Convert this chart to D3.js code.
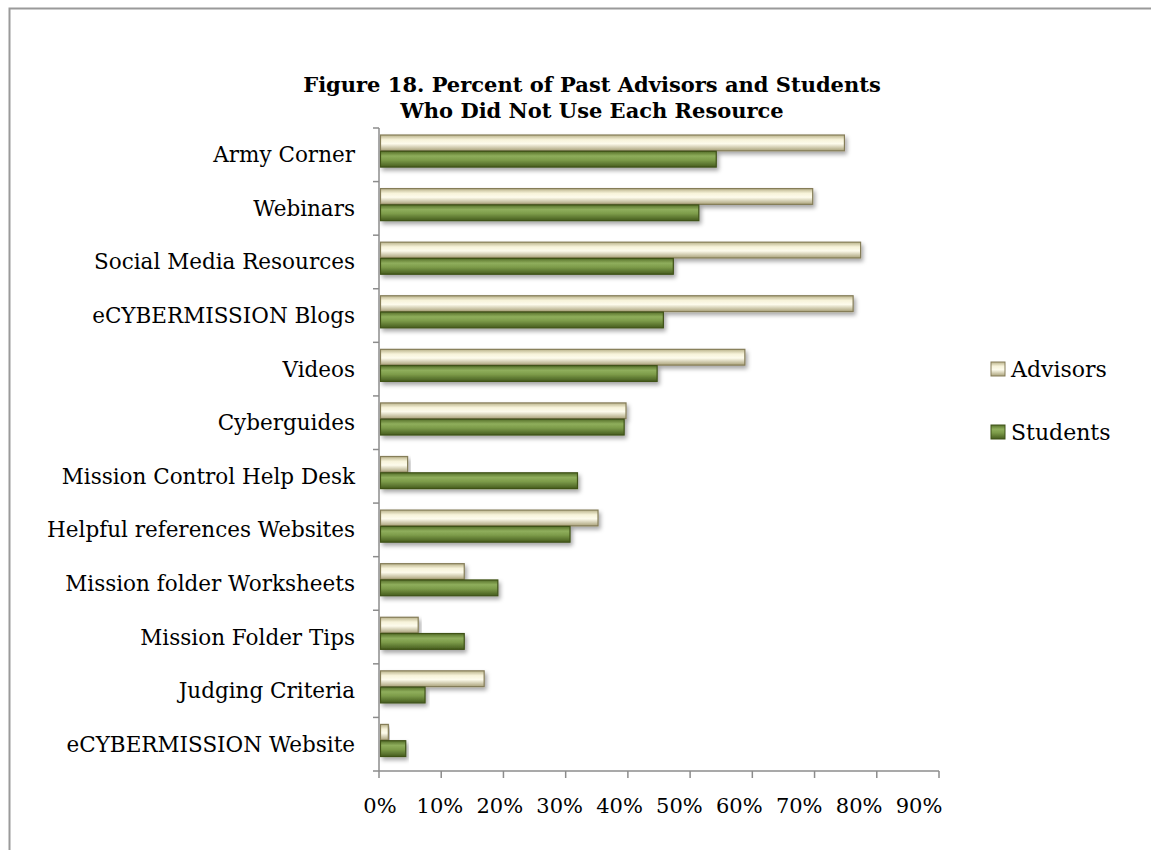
<!DOCTYPE html>
<html>
<head>
<meta charset="utf-8">
<script src="https://cdn.jsdelivr.net/npm/d3@7"></script>
<style>
  body { margin: 0; background: #fff; }
  svg { display: block; }
</style>
</head>
<body>
<svg id="chart" width="1151" height="850"></svg>
<script>
'use strict';

// Data
var categories = [
    "Army Corner",
    "Webinars",
    "Social Media Resources",
    "eCYBERMISSION Blogs",
    "Videos",
    "Cyberguides",
    "Mission Control Help Desk",
    "Helpful references Websites",
    "Mission folder Worksheets",
    "Mission Folder Tips",
    "Judging Criteria",
    "eCYBERMISSION Website"
];
var advisors = [74.8, 69.7, 77.4, 76.2, 58.8, 39.7, 4.6, 35.2, 13.7, 6.3, 16.9, 1.5];
var students = [54.2, 51.4, 47.3, 45.7, 44.7, 39.4, 31.9, 30.7, 19.1, 13.7, 7.4, 4.3];
var seriesNames = ["Advisors", "Students"];
var xTicks = [0, 10, 20, 30, 40, 50, 60, 70, 80, 90];

var FONT = "'DejaVu Serif', serif";

var svg = d3.select("#chart");

// gradients give the bevelled look of the original bars
var defs = svg.append("defs");

function addGradient(id, stops) {
    var g = defs.append("linearGradient")
        .attr("id", id)
        .attr("x1", 0).attr("y1", 0)
        .attr("x2", 0).attr("y2", 1);
    stops.forEach(function (s) {
        g.append("stop").attr("offset", s[0]).attr("stop-color", s[1]);
    });
}

addGradient("gradAdv", [[0, "#b9b28a"], [0.3, "#f7f3da"], [0.55, "#fdfbec"], [1, "#aaa27a"]]);
addGradient("gradStu", [[0, "#56702a"], [0.3, "#8fae5c"], [0.55, "#7d9c4a"], [1, "#465c1e"]]);

var shadow = defs.append("filter")
    .attr("id", "shadow")
    .attr("x", "-5%").attr("y", "-30%")
    .attr("width", "115%").attr("height", "190%");
shadow.append("feDropShadow")
    .attr("dx", 2).attr("dy", 3)
    .attr("stdDeviation", 2)
    .attr("flood-color", "#000")
    .attr("flood-opacity", 0.35);

var fills   = { "Advisors": "url(#gradAdv)", "Students": "url(#gradStu)" };
var strokes = { "Advisors": "#857d58", "Students": "#3f5218" };

// frame round the chart (runs off the right and bottom edge)
svg.append("rect")
    .attr("x", 9.5).attr("y", 8.5)
    .attr("width", 1250).attr("height", 900)
    .style("fill", "none")
    .style("stroke", "#9a9a9a")
    .style("stroke-width", 2);

// title
var title = svg.append("text")
    .style("font-family", FONT)
    .style("font-weight", "bold")
    .style("font-size", "21px")
    .style("text-anchor", "middle")
    .style("fill", "#000");
title.append("tspan").attr("x", 592).attr("y", 92)
    .text("Figure 18. Percent of Past Advisors and Students");
title.append("tspan").attr("x", 592).attr("y", 118)
    .text("Who Did Not Use Each Resource");

var plot = { left: 379, right: 939, top: 128, bottom: 771 };

var x = d3.scaleLinear().domain([0, 90]).range([plot.left, plot.right]);
// tick labels in the original sit a little tighter than the ticks
var xLabel = d3.scaleLinear().domain([0, 90]).range([380, 919]);
var y = d3.scaleBand().domain(categories).range([plot.top, plot.bottom])
    .paddingInner(0).paddingOuter(0);
var ySub = d3.scaleBand().domain(seriesNames)
    .range([7, y.bandwidth() - 14]).padding(0);

var rows = categories.map(function (c, i) {
    return { cat: c, values: [
        { name: "Advisors", value: advisors[i] },
        { name: "Students", value: students[i] }
    ]};
});

var groups = svg.append("g").selectAll("g")
    .data(rows)
    .join("g")
    .attr("transform", function (d) { return "translate(0," + y(d.cat) + ")"; });

groups.selectAll("rect")
    .data(function (d) { return d.values; })
    .join("rect")
    .attr("x", x(0) + 1.5)
    .attr("y", function (d) { return ySub(d.name); })
    .attr("width", function (d) { return Math.max(0, x(d.value) - x(0) - 1.5); })
    .attr("height", ySub.bandwidth() - 0.5)
    .style("fill", function (d) { return fills[d.name]; })
    .style("stroke", function (d) { return strokes[d.name]; })
    .style("stroke-width", 1.2)
    .attr("filter", "url(#shadow)");

// y axis: line, boundary ticks, category labels
var yAxisG = svg.append("g");
yAxisG.append("line")
    .attr("x1", plot.left).attr("x2", plot.left)
    .attr("y1", plot.top).attr("y2", plot.bottom)
    .style("stroke", "#8c8c8c").style("stroke-width", 1.5);
yAxisG.selectAll("line.tick")
    .data(categories)
    .join("line")
    .attr("class", "tick")
    .attr("x1", plot.left - 6).attr("x2", plot.left)
    .attr("y1", function (d) { return y(d); })
    .attr("y2", function (d) { return y(d); })
    .style("stroke", "#8c8c8c").style("stroke-width", 1.5);
yAxisG.selectAll("text")
    .data(categories)
    .join("text")
    .attr("x", 355)
    .attr("y", function (d) { return y(d) + y.bandwidth() / 2; })
    .attr("dy", "0.35em")
    .style("font-family", FONT)
    .style("font-size", "21.5px")
    .style("text-anchor", "end")
    .style("fill", "#000")
    .text(function (d) { return d; });

// x axis
var xAxisG = svg.append("g");
xAxisG.append("line")
    .attr("x1", plot.left - 6).attr("x2", plot.right)
    .attr("y1", plot.bottom).attr("y2", plot.bottom)
    .style("stroke", "#8c8c8c").style("stroke-width", 1.5);
xAxisG.selectAll("line.tick")
    .data(xTicks)
    .join("line")
    .attr("class", "tick")
    .attr("x1", function (d) { return x(d); })
    .attr("x2", function (d) { return x(d); })
    .attr("y1", plot.bottom).attr("y2", plot.bottom + 7)
    .style("stroke", "#8c8c8c").style("stroke-width", 1.5);
xAxisG.selectAll("text")
    .data(xTicks)
    .join("text")
    .attr("x", function (d) { return xLabel(d); })
    .attr("y", 813)
    .style("font-family", FONT)
    .style("font-size", "21px")
    .style("text-anchor", "middle")
    .style("fill", "#000")
    .text(function (d) { return d + "%"; });

// legend
var legend = svg.append("g").selectAll("g")
    .data(seriesNames)
    .join("g")
    .attr("transform", function (d, i) { return "translate(991," + (362 + i * 63) + ")"; });
legend.append("rect")
    .attr("width", 14).attr("height", 14)
    .style("fill", function (d) { return fills[d]; })
    .style("stroke", function (d) { return strokes[d]; })
    .style("stroke-width", 1);
legend.append("text")
    .attr("x", 20).attr("y", 15)
    .style("font-family", FONT)
    .style("font-size", "22px")
    .style("fill", "#000")
    .text(function (d) { return d; });
</script>
</body>
</html>
